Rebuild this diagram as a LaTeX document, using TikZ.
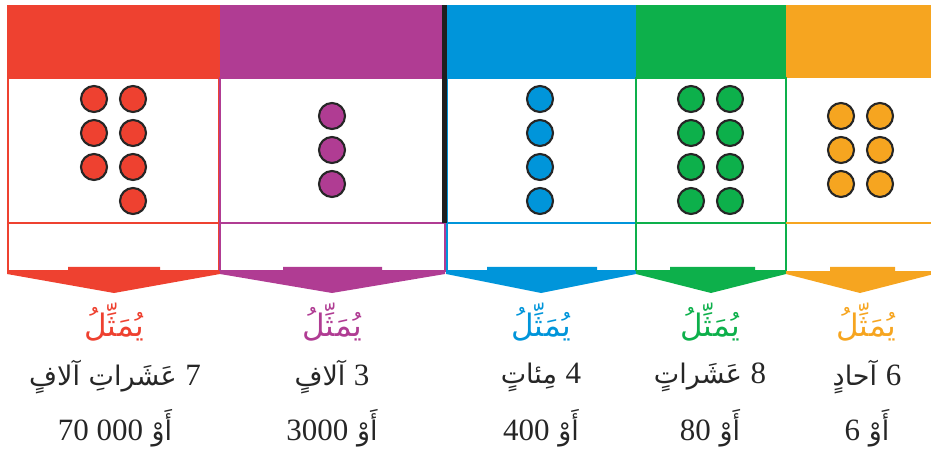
\documentclass[tikz,border=0pt]{standalone}
\usepackage{fontspec}
\TeXXeTstate=1
\newfontfamily\arabicfont[Script=Arabic]{DejaVu Sans}
\newfontfamily\numfont{Liberation Serif}
\newcommand{\lnum}[1]{\beginL{\numfont\fontsize{31}{33}\selectfont #1}\endL}

\definecolor{tenthou}{RGB}{238,65,48}
\definecolor{thou}{RGB}{176,60,147}
\definecolor{hund}{RGB}{0,149,218}
\definecolor{tens}{RGB}{13,176,75}
\definecolor{ones}{RGB}{246,165,32}

\tikzset{
  dot/.style={circle, draw=black!85, line width=2.1pt, minimum size=26pt, inner sep=0pt},
  colbox/.style={line width=1.6pt},
  repword/.style={font=\fontsize{31}{33}\selectfont, inner sep=0pt},
  valword/.style={font=\fontsize{27}{29}\selectfont, inner sep=0pt, text=black!85}
}

\begin{document}
\begin{tikzpicture}[x=1pt,y=-1pt]
\useasboundingbox (0,0) rectangle (931,454);
\clip (0,0) rectangle (931,454);
% top colour bands
\fill [tenthou] (7,5) rectangle (220,78);
\fill [thou] (220,5) rectangle (442,78);
\fill [hund] (447,5) rectangle (636,78);
\fill [tens] (636,5) rectangle (786,78);
\fill [ones] (786,5) rectangle (940,78);
% column boxes
\draw [colbox, tenthou] (8,78) rectangle (219,271);
\draw [colbox, tenthou] (8,223) -- (219,223);
\draw [colbox, thou] (220,78) rectangle (445,271);
\draw [colbox, thou] (220,223) -- (445,223);
\draw [colbox, hund] (447,78) rectangle (636,271);
\draw [colbox, hund] (447,223) -- (636,223);
\draw [colbox, tens] (636,78) rectangle (786,271);
\draw [colbox, tens] (636,223) -- (786,223);
\draw [colbox, ones] (786,223) -- (940,223);
% separator between thousands and hundreds
\fill [black!88] (441.5,5) rectangle (447,223);
% arrows
\fill [tenthou] (7,271) -- (68,271) -- (68,267) -- (160,267) -- (160,271) -- (220,271) -- (220,274) -- (114,293) -- (7,274) -- cycle;
\fill [thou] (220,271) -- (283,271) -- (283,267) -- (382,267) -- (382,271) -- (445,271) -- (445,274) -- (332,293) -- (220,274) -- cycle;
\fill [hund] (446,271) -- (487,271) -- (487,267) -- (597,267) -- (597,271) -- (636,271) -- (636,274) -- (541,293) -- (446,274) -- cycle;
\fill [tens] (636,271) -- (670,271) -- (670,267) -- (755,267) -- (755,271) -- (786,271) -- (786,274) -- (711,293) -- (636,274) -- cycle;
\fill [ones] (786,271) -- (830,271) -- (830,267) -- (895,267) -- (895,271) -- (934,271) -- (934,274) -- (860,293) -- (786,274) -- cycle;
% counters
\foreach \y [count=\i] in {99,133,167}
  \node [dot, fill=tenthou] (tta\i) at (94,\y) {};
\foreach \y [count=\i] in {99,133,167,201}
  \node [dot, fill=tenthou] (ttb\i) at (133,\y) {};
\foreach \y [count=\i] in {116,150,184}
  \node [dot, fill=thou] (th\i) at (332,\y) {};
\foreach \y [count=\i] in {99,133,167,201}
  \node [dot, fill=hund] (hu\i) at (540,\y) {};
\foreach \y [count=\i] in {99,133,167,201} {
  \node [dot, fill=tens] (tea\i) at (691,\y) {};
  \node [dot, fill=tens] (teb\i) at (730,\y) {};
}
\foreach \y [count=\i] in {116,150,184} {
  \node [dot, fill=ones] (ona\i) at (841,\y) {};
  \node [dot, fill=ones] (onb\i) at (880,\y) {};
}
% labels
\node [repword, text=tenthou] (rep1) at (114,322) {\arabicfont\beginR يُمَثِّلُ\endR};
\node [repword, text=thou] (rep2) at (332,322) {\arabicfont\beginR يُمَثِّلُ\endR};
\node [repword, text=hund] (rep3) at (541,322) {\arabicfont\beginR يُمَثِّلُ\endR};
\node [repword, text=tens] (rep4) at (710,322) {\arabicfont\beginR يُمَثِّلُ\endR};
\node [repword, text=ones] (rep5) at (866,322) {\arabicfont\beginR يُمَثِّلُ\endR};
\node [valword] (val1) at (115,377) {\arabicfont\beginR\lnum{7} عَشَراتِ آلافٍ\endR};
\node [valword] (val2) at (332,377) {\arabicfont\beginR\lnum{3} آلافٍ\endR};
\node [valword] (val3) at (541,377) {\arabicfont\beginR\lnum{4} مِئاتٍ\endR};
\node [valword] (val4) at (710,377) {\arabicfont\beginR\lnum{8} عَشَراتٍ\endR};
\node [valword] (val5) at (867,377) {\arabicfont\beginR\lnum{6} آحادٍ\endR};
\node [valword] (or1) at (115,428) {\arabicfont\beginR أَوْ \lnum{70 000}\endR};
\node [valword] (or2) at (332,428) {\arabicfont\beginR أَوْ \lnum{3000}\endR};
\node [valword] (or3) at (541,428) {\arabicfont\beginR أَوْ \lnum{400}\endR};
\node [valword] (or4) at (710,428) {\arabicfont\beginR أَوْ \lnum{80}\endR};
\node [valword] (or5) at (867,428) {\arabicfont\beginR أَوْ \lnum{6}\endR};
\end{tikzpicture}
\end{document}
